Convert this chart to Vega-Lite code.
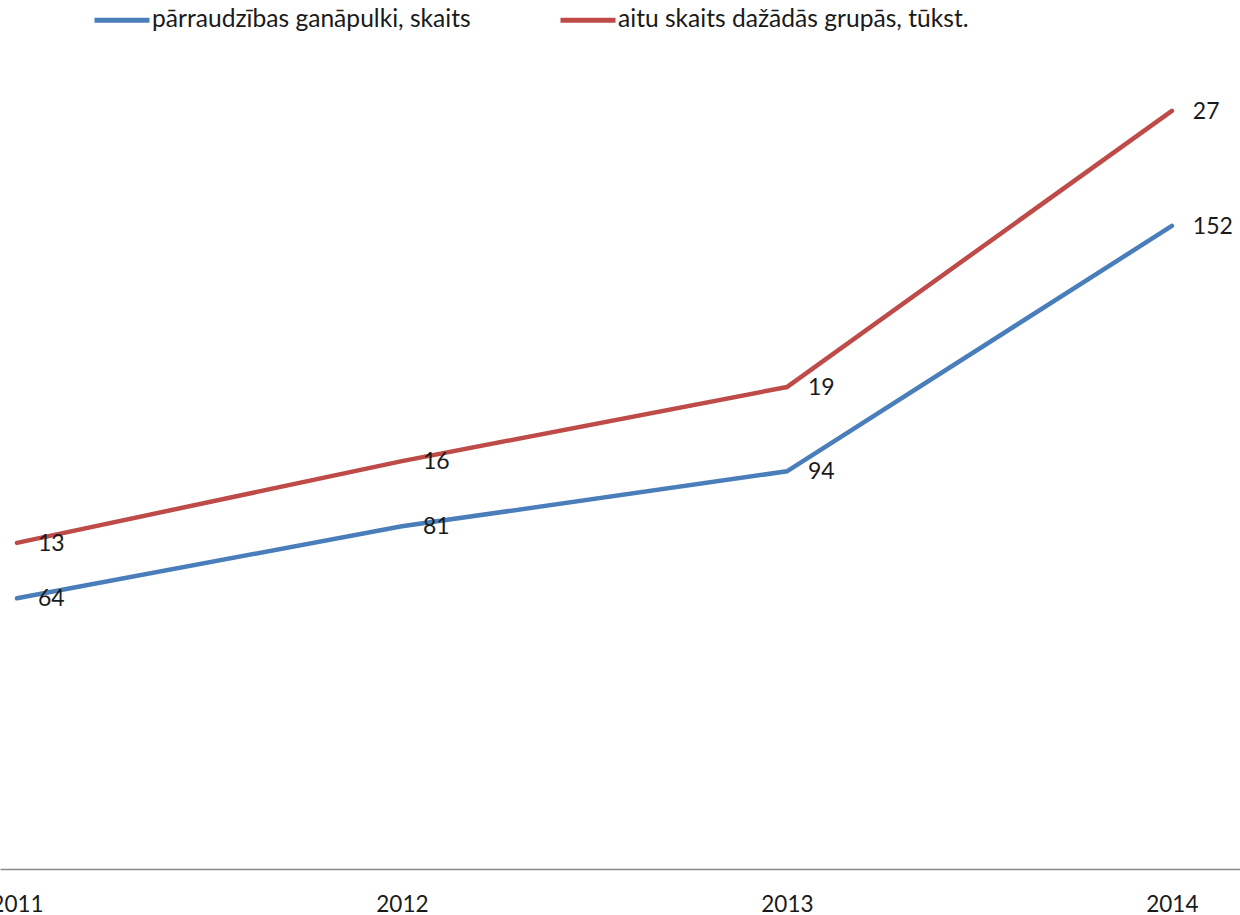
{
  "$schema": "https://vega.github.io/schema/vega-lite/v6.json",
  "width": 1240,
  "height": 869,
  "autosize": {"type": "none"},
  "padding": {"left": 0, "top": 0, "right": 0, "bottom": 46},
  "background": "white",
  "config": {
    "view": {"stroke": null},
    "font": "Lato",
    "text": {"font": "Lato"}
  },
  "data": {
    "values": [
      {"year": 2011, "series": "pārraudzības ganāpulki, skaits", "value": 64},
      {"year": 2012, "series": "pārraudzības ganāpulki, skaits", "value": 81},
      {"year": 2013, "series": "pārraudzības ganāpulki, skaits", "value": 94},
      {"year": 2014, "series": "pārraudzības ganāpulki, skaits", "value": 152},
      {"year": 2011, "series": "aitu skaits dažādās grupās, tūkst.", "value": 13.45},
      {"year": 2012, "series": "aitu skaits dažādās grupās, tūkst.", "value": 16.1},
      {"year": 2013, "series": "aitu skaits dažādās grupās, tūkst.", "value": 18.5},
      {"year": 2014, "series": "aitu skaits dažādās grupās, tūkst.", "value": 27.45}
    ]
  },
  "encoding": {
    "x": {
      "field": "year",
      "type": "quantitative",
      "scale": {"domain": [2010.956, 2014.177], "nice": false, "zero": false},
      "axis": {
        "title": null,
        "values": [2011, 2012, 2013, 2014],
        "format": "d",
        "grid": false,
        "ticks": false,
        "domainColor": "#898989",
        "domainWidth": 1.3,
        "labelFont": "Lato",
        "labelFontSize": 22.5,
        "labelColor": "#1a1a1a",
        "labelPadding": 24,
        "labelFlush": false,
        "labelOverlap": false
      }
    }
  },
  "layer": [
    {
      "transform": [{"filter": "datum.series === 'pārraudzības ganāpulki, skaits'"}],
      "encoding": {
        "y": {"field": "value", "type": "quantitative", "scale": {"domain": [0, 205.4], "nice": false, "zero": false}, "axis": null}
      },
      "layer": [
        {
          "mark": {"type": "line", "strokeWidth": 4.5, "strokeCap": "round"},
          "encoding": {
            "color": {
              "field": "series",
              "type": "nominal",
              "scale": {
                "domain": ["pārraudzības ganāpulki, skaits", "aitu skaits dažādās grupās, tūkst."],
                "range": ["#4A7EBB", "#BE4B48"]
              },
              "legend": {
                "title": null,
                "orient": "none",
                "legendX": 92,
                "legendY": -10,
                "direction": "horizontal",
                "columns": 2,
                "columnPadding": 79,
                "symbolType": "stroke",
                "symbolSize": 3025,
                "symbolStrokeWidth": 5,
                "labelFont": "Lato",
                "labelFontSize": 24.6,
                "labelColor": "#1a1a1a",
                "labelOffset": 0,
                "labelLimit": 600
              }
            }
          }
        },
        {
          "mark": {"type": "text", "align": "left", "baseline": "middle", "dx": 21, "dy": 1, "fontSize": 23, "font": "Lato", "color": "#1a1a1a"},
          "encoding": {"text": {"field": "value", "type": "quantitative", "format": ".0f"}}
        }
      ]
    },
    {
      "transform": [{"filter": "datum.series === 'aitu skaits dažādās grupās, tūkst.'"}],
      "encoding": {
        "y": {"field": "value", "type": "quantitative", "scale": {"domain": [2.884, 31.04], "nice": false, "zero": false}, "axis": null}
      },
      "layer": [
        {
          "mark": {"type": "line", "strokeWidth": 4.5, "strokeCap": "round"},
          "encoding": {
            "color": {"field": "series", "type": "nominal"}
          }
        },
        {
          "mark": {"type": "text", "align": "left", "baseline": "middle", "dx": 21, "dy": 1, "fontSize": 23, "font": "Lato", "color": "#1a1a1a"},
          "encoding": {"text": {"field": "value", "type": "quantitative", "format": ".0f"}}
        }
      ]
    }
  ],
  "resolve": {"scale": {"y": "independent"}}
}
